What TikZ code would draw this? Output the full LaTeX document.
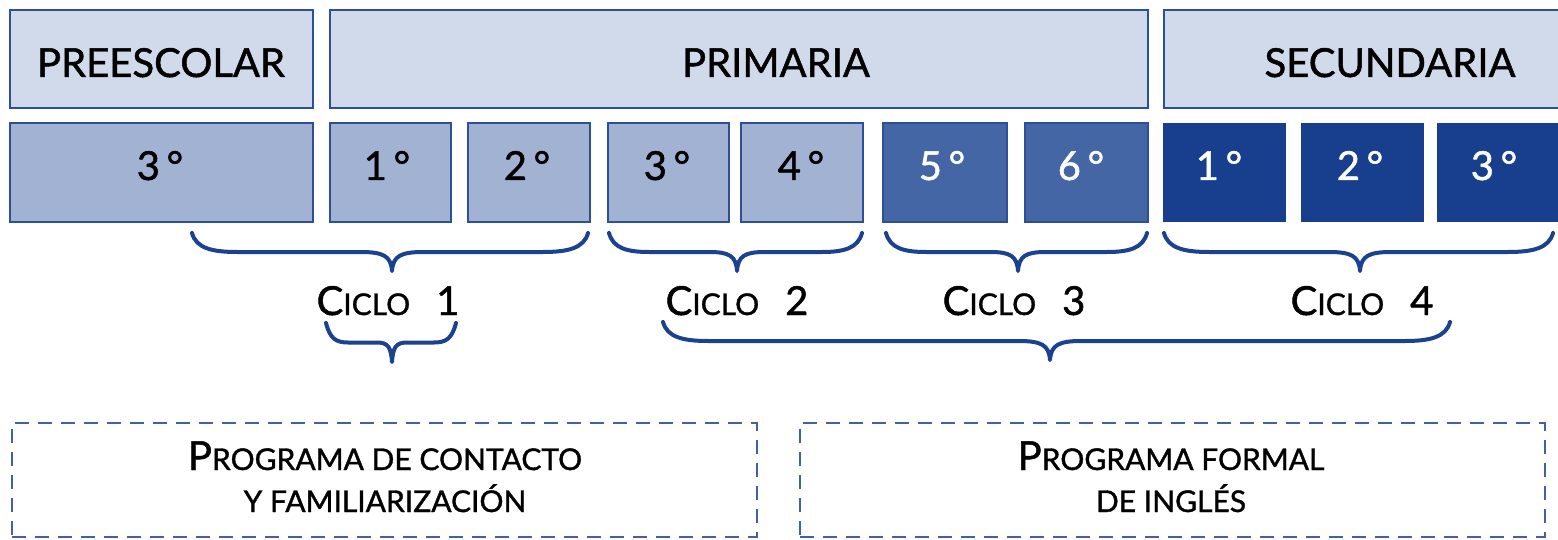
\documentclass[tikz,border=0pt]{standalone}
\usepackage{fontspec}
\setmainfont{Lato}[FakeBold=1.2]
\definecolor{lightfill}{HTML}{D0DAEA}
\definecolor{midfill}{HTML}{A1B2D3}
\definecolor{darkfill}{HTML}{4466A5}
\definecolor{secfill}{HTML}{173F8D}
\definecolor{bordercol}{HTML}{2D4F99}
\definecolor{bracecol}{HTML}{1A4290}
\newcommand\bigtxt{\fontsize{40}{44}\selectfont}
\newcommand\sctxt{\fontsize{30}{33}\selectfont}
\newcommand\ciclolbl[1]{{\bigtxt C}{\sctxt ICLO}\hspace{26pt}{\bigtxt #1}}
\newcommand\mybrace[6]{%
  \draw[bracestyle] (#1,#4) .. controls (#1+4,#4+0.4*#5) and (#1+0.45*#6,#4+0.5*#5) .. (#1+#6,#4+0.5*#5)
    -- (#3-#6*0.7,#4+0.5*#5) .. controls (#3-#6*0.2,#4+0.5*#5) and (#3-1,#4+0.6*#5) .. (#3,#4+#5)
    .. controls (#3+1,#4+0.6*#5) and (#3+#6*0.2,#4+0.5*#5) .. (#3+#6*0.7,#4+0.5*#5)
    -- (#2-#6,#4+0.5*#5) .. controls (#2-0.45*#6,#4+0.5*#5) and (#2-4,#4+0.4*#5) .. (#2,#4);}
\tikzset{
  cell/.style={draw=bordercol, line width=2.2pt, inner sep=0pt, minimum height=99pt},
  topbox/.style={cell, fill=lightfill, minimum height=98pt},
  midbox/.style={cell, fill=midfill},
  darkbox/.style={cell, fill=darkfill},
  secbox/.style={inner sep=0pt, minimum height=99pt, fill=secfill},
  lbl/.style={anchor=base, inner sep=0pt, font=\bigtxt},
  wlbl/.style={lbl, text=white},
  bracestyle/.style={draw=bracecol, line width=4pt, line cap=round, line join=round},
  dashbox/.style={draw=bordercol!90, line width=2.4pt, dash pattern=on 14pt off 9pt, inner sep=0pt, minimum height=114pt, minimum width=745pt},
}
\begin{document}
\begin{tikzpicture}[x=1pt,y=-1pt]
\useasboundingbox (0,0) rectangle (1558,540);
\begin{scope}
\clip (0,0) rectangle (1558,540);
% top row
\node[topbox, minimum width=303pt] (pre) at (161.5,59) {};
\node[topbox, minimum width=818pt] (pri) at (739,59) {};
\node[topbox, minimum width=410pt] (sec) at (1369,59) {};
\node[lbl] (tpre) at (161,77) {PREESCOLAR};
\node[lbl] (tpri) at (776,77) {PRIMARIA};
\node[lbl] (tsec) at (1390,77) {SECUNDARIA};
% second row
\node[midbox, minimum width=303pt] (g0) at (161.5,172.5) {};
\node[midbox, minimum width=121pt] (g1) at (390.5,172.5) {};
\node[midbox, minimum width=122pt] (g2) at (529,172.5) {};
\node[midbox, minimum width=121pt] (g3) at (668.5,172.5) {};
\node[midbox, minimum width=122pt] (g4) at (802,172.5) {};
\node[darkbox, minimum width=124pt] (g5) at (945,172.5) {};
\node[darkbox, minimum width=123pt] (g6) at (1086.5,172.5) {};
\node[secbox, minimum width=123pt] (s1) at (1224.5,172.5) {};
\node[secbox, minimum width=123pt] (s2) at (1362.5,172.5) {};
\node[secbox, minimum width=133pt] (s3) at (1503.5,172.5) {};
\node[lbl] (tg0) at (160,180) {3\,°};
\node[lbl] (tg1) at (387,180) {1\,°};
\node[lbl] (tg2) at (527,180) {2\,°};
\node[lbl] (tg3) at (667,180) {3\,°};
\node[lbl] (tg4) at (801,180) {4\,°};
\node[wlbl] (tg5) at (942,180) {5\,°};
\node[wlbl] (tg6) at (1081,180) {6\,°};
\node[wlbl] (ts1) at (1219,180) {1\,°};
\node[wlbl] (ts2) at (1360,180) {2\,°};
\node[wlbl] (ts3) at (1494,180) {3\,°};
% braces under grades
\mybrace{192}{588}{392}{233}{38}{45}
\mybrace{609}{862}{737}{233}{38}{40}
\mybrace{886}{1147}{1018}{233}{38}{40}
\mybrace{1164}{1553}{1360}{233}{38}{45}
% cycle labels
\node[lbl] (c1) at (388,315) {\ciclolbl{1}};
\node[lbl] (c2) at (737,315) {\ciclolbl{2}};
\node[lbl] (c3) at (1014,315) {\ciclolbl{3}};
\node[lbl] (c4) at (1362,315) {\ciclolbl{4}};
% lower braces
\mybrace{326}{456}{392}{323}{39}{22}
\mybrace{663}{1450}{1050}{322}{38}{45}
% programmes
\node[dashbox] (pc) at (384.5,480) {};
\node[dashbox] (pf) at (1172.5,480) {};
\node[lbl] (pc1) at (385,470) {{\bigtxt P}{\sctxt ROGRAMA DE CONTACTO}};
\node[lbl] (pc2) at (385,512) {\sctxt Y FAMILIARIZACIÓN};
\node[lbl] (pf1) at (1171,470) {{\bigtxt P}{\sctxt ROGRAMA FORMAL}};
\node[lbl] (pf2) at (1171,512) {\sctxt DE INGLÉS};
\end{scope}
\end{tikzpicture}
\end{document}
